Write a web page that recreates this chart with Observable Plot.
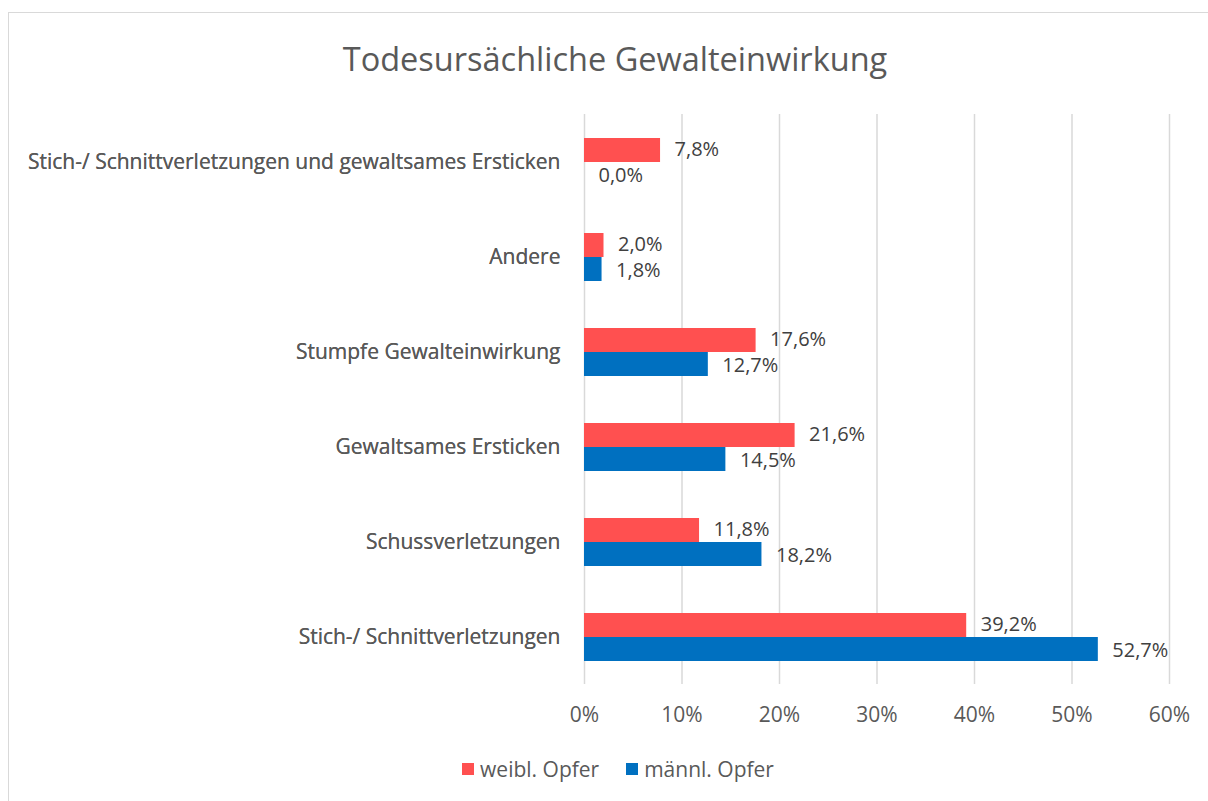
<!DOCTYPE html>
<html>
<head>
<meta charset="utf-8">
<script src="https://cdn.jsdelivr.net/npm/d3@7"></script>
<script src="https://cdn.jsdelivr.net/npm/@observablehq/plot@0.6"></script>
<style>
  html, body { margin: 0; padding: 0; background: #fff; overflow: hidden; }
  #wrap { position: relative; width: 1208px; height: 801px; overflow: hidden; font-family: "Open Sans", sans-serif; color: #595959; }
  #frame { position: absolute; left: 8px; top: 12px; width: 1400px; height: 1000px; border: 1.5px solid #d9d9d9; box-sizing: border-box; }
  #title { position: absolute; left: 0; width: 1230px; top: 36px; text-align: center; font-size: 32.5px; color: #595959; }
  #plot { position: absolute; left: 0; top: 0; }
  #legend { position: absolute; left: 0; width: 1236px; top: 755px; display: flex; justify-content: center; gap: 27px; font-size: 21px; color: #595959; }
  .item { display: flex; align-items: center; gap: 6px; }
  .sw { width: 12px; height: 12px; display: inline-block; }
</style>
</head>
<body>
<div id="wrap">
  <div id="frame"></div>
  <div id="title">Todesursächliche Gewalteinwirkung</div>
  <div id="plot"></div>
  <div id="legend"></div>
</div>
<script>
const categories = [
  "Stich-/ Schnittverletzungen und gewaltsames Ersticken",
  "Andere",
  "Stumpfe Gewalteinwirkung",
  "Gewaltsames Ersticken",
  "Schussverletzungen",
  "Stich-/ Schnittverletzungen"
];
const seriesNames = ["weibl. Opfer", "männl. Opfer"];
const seriesColors = ["#FF5050", "#0070C0"];
const weibl = [7.8, 2.0, 17.6, 21.6, 11.8, 39.2];
const maennl = [0.0, 1.8, 12.7, 14.5, 18.2, 52.7];
const xTicks = [0, 10, 20, 30, 40, 50, 60];

const data = [];
categories.forEach((c, i) => {
  data.push({category: c, series: seriesNames[0], value: weibl[i]});
  data.push({category: c, series: seriesNames[1], value: maennl[i]});
});
const fmt = v => v.toFixed(1).replace(".", ",") + "%";

const chart = Plot.plot({
  width: 1208,
  height: 760,
  marginTop: 112,
  marginBottom: 75,
  marginLeft: 584,
  marginRight: 39,
  style: {fontFamily: "Open Sans, sans-serif", fontSize: "21px", color: "#595959", background: "transparent"},
  x: {domain: [0, 60], ticks: xTicks, tickFormat: d => d + "%", tickSize: 0, tickPadding: 22, label: null},
  y: {domain: seriesNames, axis: null, paddingInner: 0, paddingOuter: 0.91},
  fy: {domain: categories, padding: 0, axis: "left", tickSize: 0, tickPadding: 24, label: null},
  color: {domain: seriesNames, range: seriesColors},
  marks: [
    Plot.gridX(xTicks, {stroke: "#d9d9d9", strokeOpacity: 1, strokeWidth: 1.5}),
    Plot.barX(data, {x: "value", y: "series", fy: "category", fill: "series", inset: 0}),
    Plot.text(data.filter(d => d.series === seriesNames[0]), {x: "value", y: "series", fy: "category", text: d => fmt(d.value), textAnchor: "start", dx: 14, dy: -1, fill: "#404040", fontSize: 20}),
    Plot.text(data.filter(d => d.series === seriesNames[1]), {x: "value", y: "series", fy: "category", text: d => fmt(d.value), textAnchor: "start", dx: 14, dy: 1, fill: "#404040", fontSize: 20}),
    Plot.axisX({ticks: xTicks, tickFormat: d => d + "%", tickSize: 0, tickPadding: 23, fontSize: 21, fill: "#595959", label: null}),
    Plot.axisFy({anchor: "left", tickSize: 0, tickPadding: 24, fontSize: 21, fill: "#595959", label: null})
  ]
});
document.getElementById("plot").appendChild(chart);

const legend = document.getElementById("legend");
seriesNames.forEach((s, i) => {
  const it = document.createElement("div");
  it.className = "item";
  it.innerHTML = `<span class="sw" style="background:${seriesColors[i]}"></span><span>${s}</span>`;
  legend.appendChild(it);
});
</script>
</body>
</html>
